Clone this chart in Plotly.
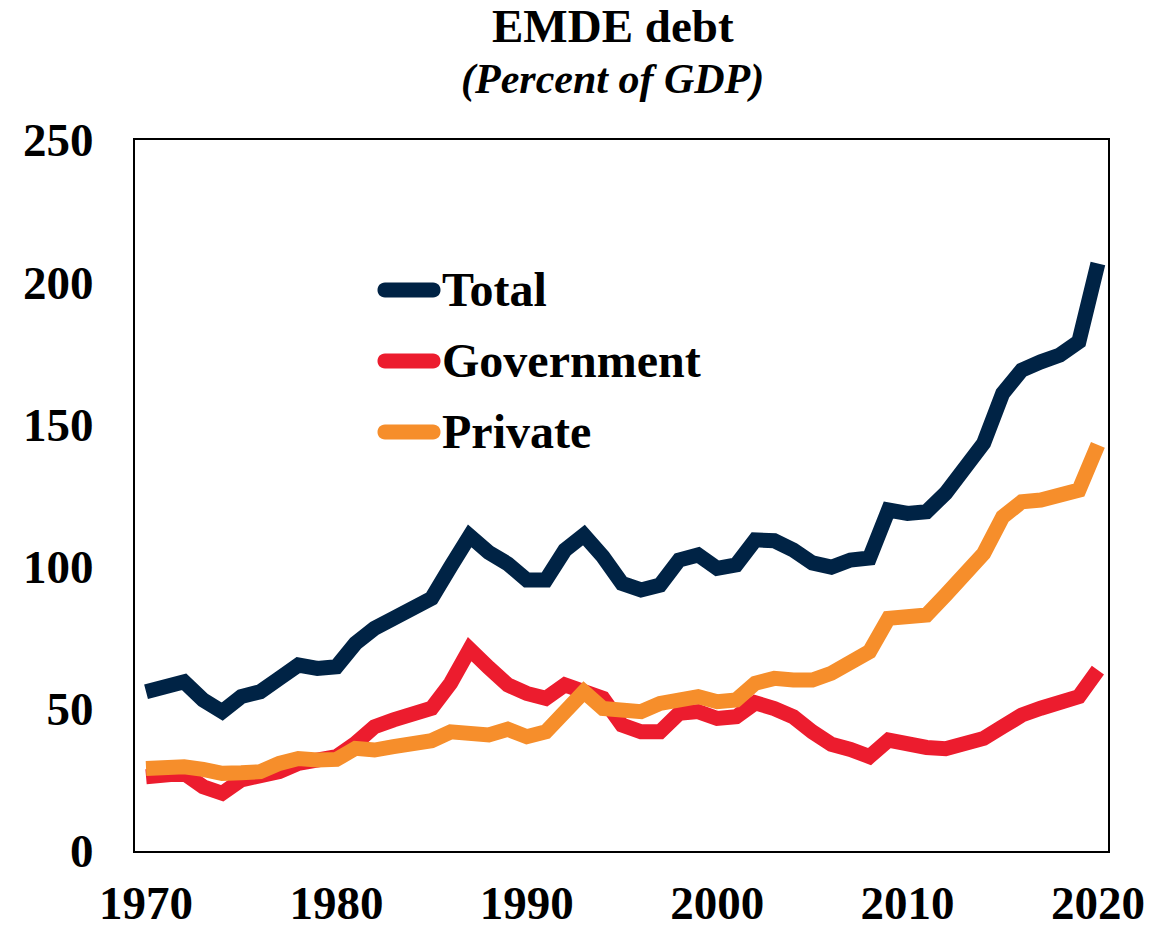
import plotly.graph_objects as go

# EMDE debt, percent of GDP, 1970-2020
years = list(range(1970, 2021))

total = [
    56.0, 57.2, 59.5, 53.1, 49.0, 54.3, 56.0, 60.7, 65.4, 64.2,
    64.8, 73.0, 78.3, 81.8, 84.7, 88.8, 100.0, 110.8, 105.0, 101.0,
    95.3, 95.3, 105.8, 111.1, 103.5, 94.1, 91.8, 93.5, 102.3, 104.1,
    99.4, 100.6, 109.4, 109.1, 105.8, 101.3, 99.8, 102.3, 103.0, 119.9,
    118.7, 119.3, 125.8, 134.6, 143.4, 160.9, 169.1, 172.0, 174.4, 179.1, 206.6,
]
government = [
    26.1, 26.4, 27.3, 22.6, 20.3, 25.0, 26.1, 27.9, 30.8, 31.4,
    33.2, 37.8, 43.7, 46.1, 47.8, 50.2, 59.0, 71.0, 64.5, 58.4,
    55.4, 53.7, 58.4, 56.6, 53.7, 44.3, 41.9, 41.9, 48.4, 49.0,
    46.6, 47.2, 52.1, 50.1, 47.2, 41.9, 37.5, 35.7, 33.2, 39.0,
    37.3, 36.4, 36.0, 37.3, 39.6, 43.7, 47.8, 50.2, 51.9, 54.3, 63.6,
]
private = [
    29.0, 29.6, 29.6, 28.7, 27.3, 27.5, 27.9, 30.8, 32.5, 32.0,
    32.2, 36.1, 35.5, 36.7, 37.6, 38.8, 41.9, 41.4, 40.8, 42.8,
    40.2, 41.9, 49.0, 56.0, 50.1, 49.6, 49.0, 51.9, 53.1, 54.3,
    52.5, 53.1, 59.0, 60.7, 60.1, 60.1, 62.5, 66.8, 70.1, 81.8,
    81.8, 83.0, 90.0, 97.6, 104.6, 117.5, 122.8, 123.4, 124.5, 126.9, 142.8,
]

series_names = ["Total", "Government", "Private"]
series_colors = ["#002345", "#EC1C2E", "#F68E2B"]
series_values = [total, government, private]

x_ticks = [1970, 1980, 1990, 2000, 2010, 2020]
y_ticks = [0, 50, 100, 150, 200, 250]

FONT = "Liberation Serif"
W, H = 1171, 929
ML, MR, MT, MB = 135, 63, 140, 78
PW, PH = W - ML - MR, H - MT - MB

fig = go.Figure()
for name, color, vals in zip(series_names, series_colors, series_values):
    fig.add_trace(go.Scatter(
        x=years, y=vals, name=name, mode="lines",
        line=dict(color=color, width=15),
        showlegend=False,
    ))


def px_x(p):
    return (p - ML) / PW


def px_y(p):
    return (H - MB - p) / PH


# Hand-placed legend: rounded swatch + bold label
legend_rows_y = [290, 361, 432]
shapes = []
annotations = []
half, r = 24, 7.5
k = 4 * r / 3
stadium = (f"M{-half},{-r} L{half},{-r} C{half + k},{-r} {half + k},{r} {half},{r} "
           f"L{-half},{r} C{-half - k},{r} {-half - k},{-r} {-half},{-r} Z")
for name, color, yp in zip(series_names, series_colors, legend_rows_y):
    shapes.append(dict(
        type="path", xref="paper", yref="paper",
        xsizemode="pixel", ysizemode="pixel",
        xanchor=px_x(409), yanchor=px_y(yp),
        path=stadium, fillcolor=color, line=dict(width=0),
    ))
    annotations.append(dict(
        x=px_x(440), y=px_y(yp - 1), xref="paper", yref="paper",
        text=f"<b>{name}</b>", showarrow=False,
        xanchor="left", yanchor="middle",
        font=dict(family=FONT, size=48, color="black"),
    ))

annotations.append(dict(
    x=px_x(613), y=px_y(26), xref="paper", yref="paper",
    text="<b>EMDE debt</b>", showarrow=False,
    xanchor="center", yanchor="middle",
    font=dict(family=FONT, size=47, color="black"),
))
annotations.append(dict(
    x=px_x(612), y=px_y(79), xref="paper", yref="paper",
    text="<b><i>(Percent of GDP)</i></b>", showarrow=False,
    xanchor="center", yanchor="middle",
    font=dict(family=FONT, size=42, color="black"),
))

fig.update_layout(
    width=W, height=H,
    margin=dict(l=ML, r=MR, t=MT, b=MB, autoexpand=False),
    paper_bgcolor="white", plot_bgcolor="white",
    shapes=shapes, annotations=annotations,
    showlegend=False,
)
fig.update_xaxes(
    range=[1969.42, 2020.53], tickvals=x_ticks, ticktext=[str(t) for t in x_ticks],
    showgrid=False, zeroline=False, showline=True, linecolor="black",
    linewidth=2, mirror=True, ticks="", ticklabelstandoff=10,
    tickfont=dict(family=FONT, size=47, color="black", weight="bold"),
)
fig.update_yaxes(
    range=[0, 250], tickvals=y_ticks,
    showgrid=False, zeroline=False, showline=True, linecolor="black",
    linewidth=2, mirror=True, ticks="", ticklabelstandoff=30,
    tickfont=dict(family=FONT, size=47, color="black", weight="bold"),
)

fig.write_html("out.html")
